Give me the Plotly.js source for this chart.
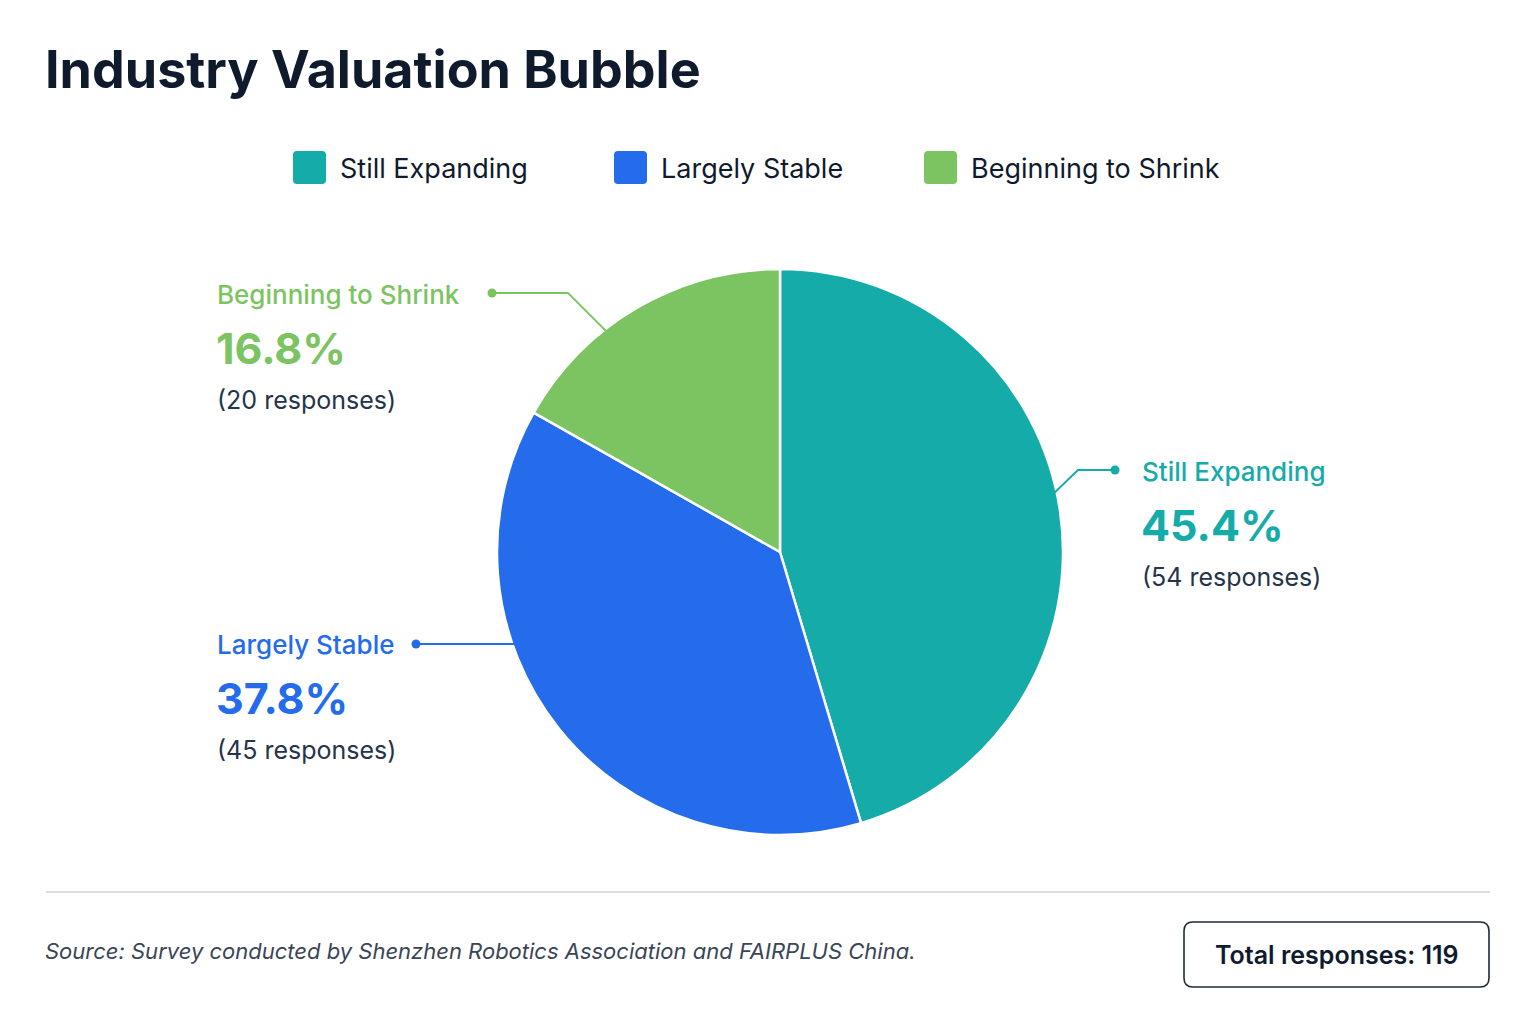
<!DOCTYPE html>
<html>
<head>
<meta charset="utf-8">
<script src="https://cdn.plot.ly/plotly-3.0.1.min.js"></script>
<style>
html,body{margin:0;padding:0;background:#ffffff;}
#chart{width:1536px;height:1024px;}
</style>
</head>
<body>
<div id="chart"></div>
<script>
// ---- data ----
const categories = ["Still Expanding", "Largely Stable", "Beginning to Shrink"];
const responses = [54, 45, 20];
const colors = ["#14aba9", "#246ceb", "#7cc462"];
const chartTitle = "Industry Valuation Bubble";
const sourceText = "Source: Survey conducted by Shenzhen Robotics Association and FAIRPLUS China.";

// ---- layout helpers (pixel -> paper) ----
const W = 1536, H = 1024;
const px = x => x / W;
const py = y => 1 - y / H;

const total = responses.reduce((a, b) => a + b, 0);

// label block positions (pixels): left x of text, y of name line, leader line points
const labelPos = [
  {x: 1140, y: 471, line: [[1115, 470], [1078, 470], [1050, 497]]},
  {x: 215, y: 644, line: [[416, 644], [522, 644]]},
  {x: 215, y: 294, line: [[492, 293], [568, 293], [606, 331]]}
];

const FONT = "Inter, 'Noto Sans', sans-serif";
const annotations = [];
const shapes = [];

categories.forEach((c, i) => {
  const p = labelPos[i];
  const pct = (responses[i] / total * 100).toFixed(1) + "%";
  annotations.push({xref: "paper", yref: "paper", x: px(p.x), y: py(p.y), xanchor: "left", yanchor: "middle",
    text: c, showarrow: false, font: {family: FONT, size: 26, color: colors[i], weight: 500}});
  annotations.push({xref: "paper", yref: "paper", x: px(p.x - 1), y: py(p.y + 54), xanchor: "left", yanchor: "middle",
    text: "<b>" + pct + "</b>", showarrow: false, font: {family: FONT, size: 43, color: colors[i]}});
  annotations.push({xref: "paper", yref: "paper", x: px(p.x), y: py(p.y + 106), xanchor: "left", yanchor: "middle",
    text: "(" + responses[i] + " responses)", showarrow: false, font: {family: FONT, size: 25, color: "#26344a"}});
  // leader line
  let path = "M" + p.line.map(q => px(q[0]) + "," + py(q[1])).join(" L");
  shapes.push({type: "path", xref: "paper", yref: "paper", path: path, line: {color: colors[i], width: 1.8}});
  const d = p.line[0];
  shapes.push({type: "circle", xref: "paper", yref: "paper",
    x0: px(d[0] - 4.5), x1: px(d[0] + 4.5), y0: py(d[1] + 4.5), y1: py(d[1] - 4.5),
    fillcolor: colors[i], line: {width: 0}});
});

// custom legend
const legendX = [293, 614, 924];
categories.forEach((c, i) => {
  const x0 = legendX[i], y0 = 151, s = 33, r = 4;
  const pth = `M${px(x0 + r)},${py(y0)} L${px(x0 + s - r)},${py(y0)} Q${px(x0 + s)},${py(y0)} ${px(x0 + s)},${py(y0 + r)} ` +
    `L${px(x0 + s)},${py(y0 + s - r)} Q${px(x0 + s)},${py(y0 + s)} ${px(x0 + s - r)},${py(y0 + s)} ` +
    `L${px(x0 + r)},${py(y0 + s)} Q${px(x0)},${py(y0 + s)} ${px(x0)},${py(y0 + s - r)} ` +
    `L${px(x0)},${py(y0 + r)} Q${px(x0)},${py(y0)} ${px(x0 + r)},${py(y0)} Z`;
  shapes.push({type: "path", xref: "paper", yref: "paper", path: pth, fillcolor: colors[i], line: {width: 0}});
  annotations.push({xref: "paper", yref: "paper", x: px(x0 + 45), y: py(168), xanchor: "left", yanchor: "middle",
    text: c, showarrow: false, font: {family: FONT, size: 27, color: "#0f1b2d"}});
});

// separator line
shapes.push({type: "line", xref: "paper", yref: "paper", x0: px(46), x1: px(1490), y0: py(892), y1: py(892),
  line: {color: "#cbd3dd", width: 1.5}});

// total box (rounded)
{
  const x0 = 1184, y0 = 922, x1 = 1489, y1 = 987, r = 9;
  const pth = `M${px(x0 + r)},${py(y0)} L${px(x1 - r)},${py(y0)} Q${px(x1)},${py(y0)} ${px(x1)},${py(y0 + r)} ` +
    `L${px(x1)},${py(y1 - r)} Q${px(x1)},${py(y1)} ${px(x1 - r)},${py(y1)} ` +
    `L${px(x0 + r)},${py(y1)} Q${px(x0)},${py(y1)} ${px(x0)},${py(y1 - r)} ` +
    `L${px(x0)},${py(y0 + r)} Q${px(x0)},${py(y0)} ${px(x0 + r)},${py(y0)} Z`;
  shapes.push({type: "path", xref: "paper", yref: "paper", path: pth, fillcolor: "rgba(0,0,0,0)", line: {color: "#1e2a3c", width: 1.6}});
  annotations.push({xref: "paper", yref: "paper", x: px((x0 + x1) / 2), y: py(955), xanchor: "center", yanchor: "middle",
    text: "Total responses: " + total, showarrow: false, font: {family: FONT, size: 25, color: "#0f1b2d", weight: 600}});
}

// source
annotations.push({xref: "paper", yref: "paper", x: px(43), y: py(951), xanchor: "left", yanchor: "middle",
  text: "<i>" + sourceText + "</i>", showarrow: false, font: {family: FONT, size: 22, color: "#3a4556"}});

const trace = {
  type: "pie",
  labels: categories,
  values: responses,
  sort: false,
  direction: "clockwise",
  rotation: 0,
  textinfo: "none",
  hoverinfo: "label+value+percent",
  marker: {colors: colors, line: {color: "#ffffff", width: 2.5}},
  domain: {x: [px(780 - 283), px(780 + 283)], y: [py(552 + 283), py(552 - 283)]},
  showlegend: false
};

const layout = {
  width: W, height: H,
  margin: {l: 0, r: 0, t: 0, b: 0},
  paper_bgcolor: "#ffffff",
  plot_bgcolor: "#ffffff",
  title: {text: "<b>" + chartTitle + "</b>", x: px(45), xanchor: "left", xref: "paper",
    y: py(70), yanchor: "middle", yref: "paper", font: {family: FONT, size: 52, color: "#0f1b2d"}},
  showlegend: false,
  annotations: annotations,
  shapes: shapes
};

Plotly.newPlot("chart", [trace], layout, {displayModeBar: false, staticPlot: true});
</script>
</body>
</html>
